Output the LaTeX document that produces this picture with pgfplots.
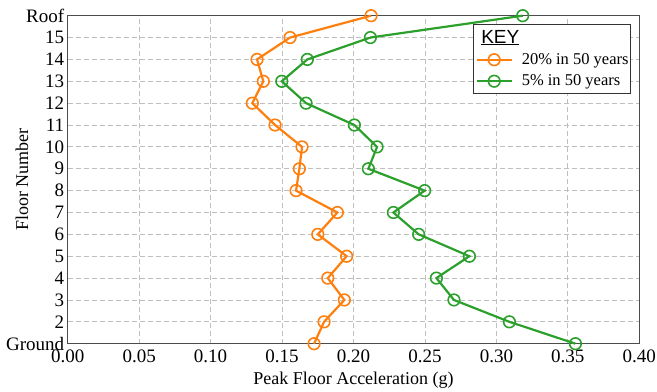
\documentclass[border=0pt]{standalone}
\usepackage{fontspec}
\setmainfont{Liberation Serif}
\newfontfamily\keyfont{Liberation Sans}
\usepackage{pgfplots}
\pgfplotsset{compat=1.18}
\definecolor{tabor}{HTML}{FF7F0E}
\definecolor{tabgr}{HTML}{2CA02C}
\begin{document}
\begin{tikzpicture}
\begin{axis}[
  scale only axis,
  width=571.6pt, height=328pt,
  xmin=0, xmax=0.4, ymin=1, ymax=16,
  xtick={0,0.05,...,0.4},
  ytick={1,...,16},
  yticklabels={Ground,2,3,4,5,6,7,8,9,10,11,12,13,14,15,Roof},
  x tick label style={/pgf/number format/fixed, /pgf/number format/fixed zerofill, /pgf/number format/precision=2, yshift=-3pt},
  /pgf/number format/assume math mode=true,
  tick label style={font=\fontsize{19}{21}\selectfont},
  xlabel={Peak Floor Acceleration (g)},
  ylabel={Floor Number},
  every axis x label/.style={at={(rel axis cs:0.5,0)}, yshift=-37pt, anchor=center, font=\fontsize{18}{20}\selectfont},
  every axis y label/.style={at={(rel axis cs:0,0.5)}, xshift=-45.7pt, rotate=90, anchor=center, font=\fontsize{18}{20}\selectfont},
  major tick length=0pt,
  grid=major,
  grid style={gray!50, dashed, line width=0.9pt, dash pattern=on 5pt off 3pt},
  axis line style={black!70, line width=1.3pt},
  legend cell align=left,
  legend style={at={(rel axis cs:0.9855,0.9747)}, anchor=north east,
    draw=black!80, line width=0.9pt, font=\fontsize{16.5}{18}\selectfont,
    inner xsep=2pt, inner ysep=3.5pt, row sep=5pt, column sep=9pt,
    nodes={inner xsep=0pt}},
  legend image code/.code={\draw[#1, mark repeat=2, mark phase=2] plot coordinates {(0pt,0pt) (17.5pt,0pt) (35pt,0pt)};},
  clip=false,
]
\coordinate (sw) at (rel axis cs:0,0);
\coordinate (ne) at (rel axis cs:1,1);
\addlegendimage{empty legend}
\addlegendentry{\hspace{-44pt}{\keyfont\fontsize{19}{21}\selectfont\underline{KEY}}}
\addplot[tabor, line width=2.2pt, mark=o, mark size=5.8pt, mark options={line width=1.6pt}] coordinates {
(0.1724,1) (0.1794,2) (0.1936,3) (0.1820,4) (0.1952,5) (0.1750,6) (0.1887,7) (0.1598,8)
(0.1621,9) (0.1640,10) (0.1451,11) (0.1292,12) (0.1369,13) (0.1325,14) (0.1556,15) (0.2123,16)};
\addlegendentry{20\% in 50 years}
\addplot[tabgr, line width=2.2pt, mark=o, mark size=5.8pt, mark options={line width=1.6pt}] coordinates {
(0.3553,1) (0.3091,2) (0.2703,3) (0.2580,4) (0.2811,5) (0.2456,6) (0.2279,7) (0.2498,8)
(0.2104,9) (0.2165,10) (0.2006,11) (0.1668,12) (0.1498,13) (0.1677,14) (0.2118,15) (0.3184,16)};
\addlegendentry{5\% in 50 years}
\end{axis}
\pgfresetboundingbox
\path ([shift={(-67.7pt,-48.3pt)}]sw) rectangle ([shift={(17.7pt,15.7pt)}]ne);
\end{tikzpicture}
\end{document}
